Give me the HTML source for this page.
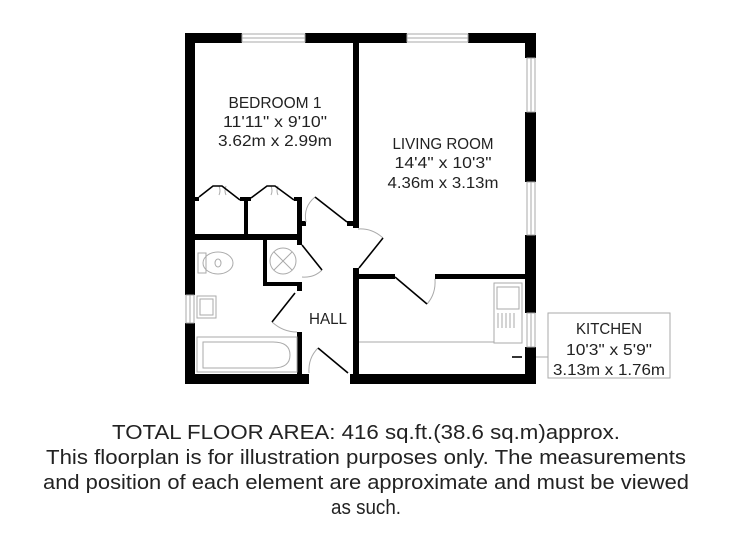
<!DOCTYPE html>
<html><head><meta charset="utf-8"><style>
html,body{margin:0;padding:0;background:#fff;width:733px;height:550px;overflow:hidden}
svg{display:block}
text{font-family:"Liberation Sans",sans-serif;fill:#222}
</style></head><body>
<svg width="733" height="550" viewBox="0 0 733 550" xmlns="http://www.w3.org/2000/svg">
<g fill="#000">
<rect x="185" y="33" width="57" height="10"/>
<rect x="305" y="33" width="102" height="10"/>
<rect x="468" y="33" width="68" height="10"/>
<rect x="185" y="33" width="10" height="262"/>
<rect x="185" y="323" width="10" height="61"/>
<rect x="185" y="374" width="124" height="10"/>
<rect x="350" y="374" width="186" height="10"/>
<rect x="525" y="33" width="11" height="25"/>
<rect x="525" y="112" width="11" height="70"/>
<rect x="525" y="235" width="11" height="78"/>
<rect x="525" y="347" width="11" height="37"/>
<rect x="353" y="33" width="6" height="195"/>
<rect x="347" y="221" width="12" height="5"/>
<rect x="353" y="268" width="6" height="116"/>
<rect x="359" y="274" width="36" height="5"/>
<rect x="435" y="274" width="90" height="5"/>
<rect x="195" y="234" width="107" height="6"/>
<rect x="244" y="198" width="4" height="36"/>
<rect x="240" y="197" width="11" height="4"/>
<rect x="195" y="197" width="4" height="4"/>
<rect x="297" y="197" width="5" height="48"/>
<rect x="294" y="197" width="8" height="4"/>
<rect x="302" y="221" width="4" height="5"/>
<rect x="263" y="240" width="4" height="46"/>
<rect x="263" y="282" width="39" height="4"/>
<rect x="297" y="282" width="5" height="9"/>
<rect x="297" y="332" width="5" height="42"/>
</g>
<g fill="none" stroke="#aaa" stroke-width="1">
<rect x="242" y="34" width="63" height="8"/><line x1="242" y1="38" x2="305" y2="38"/>
<rect x="407" y="34" width="61" height="8"/><line x1="407" y1="38" x2="468" y2="38"/>
<rect x="527" y="58" width="8" height="54"/><line x1="531" y1="58" x2="531" y2="112"/>
<rect x="527" y="182" width="8" height="53"/><line x1="531" y1="182" x2="531" y2="235"/>
<rect x="527" y="313" width="8" height="34"/><line x1="531" y1="313" x2="531" y2="347"/>
<rect x="186" y="295" width="8" height="28"/><line x1="190" y1="295" x2="190" y2="323"/>
<path d="M315 197 Q303 207 306 222"/>
<path d="M383 238 Q372 228 358 229"/>
<path d="M322 270 Q314 278 302 277"/>
<path d="M272 322 Q283 332 297 332"/>
<path d="M318 348 Q308 358 309 373"/>
<path d="M427 304 Q436 294 435 279"/>
<circle cx="283" cy="261" r="13"/>
<line x1="274" y1="252" x2="292" y2="270"/><line x1="292" y1="252" x2="274" y2="270"/>
<path d="M198 253 h8 v20 h-8 z"/><ellipse cx="218" cy="263" rx="15" ry="11"/><ellipse cx="218" cy="263" rx="3" ry="4"/>
<rect x="197" y="296" width="19" height="22"/><rect x="200" y="299" width="13" height="16"/>
<rect x="197" y="337" width="100" height="35"/>
<path d="M203 342 h70 q17 0 17 13 q0 13 -17 13 h-70 z"/>
<line x1="359" y1="342" x2="494" y2="342"/>
<rect x="494" y="283" width="28" height="60"/>
<rect x="497" y="287" width="22" height="22"/>
<path d="M498 313 v15 M502 313 v15 M506 313 v15 M510 313 v15 M514 313 v15"/>
<path d="M219 186 q2 5 0 9 M226 186 q-2 5 0 9 M271 186 q2 5 0 9 M278 186 q-2 5 0 9"/>
<rect x="548" y="313" width="122" height="65"/>
<line x1="536" y1="357" x2="548" y2="357"/>
</g>
<g fill="none" stroke="#000" stroke-width="1.6">
<path d="M199 197 L213 186 L222 186 L240 200"/>
<path d="M251 198 L267 186 L275 186 L294 200"/>
<path d="M347 222 L315 197"/>
<path d="M359 268 L383 238"/>
<path d="M302 245 L322 270"/>
<path d="M295 293 L272 322"/>
<path d="M318 348 L348 373"/>
<path d="M395 277 L427 304"/>
<path d="M512 357 L522 357"/>
</g>
<g font-size="16" text-anchor="middle" lengthAdjust="spacingAndGlyphs">
<text x="275" y="108" textLength="93" lengthAdjust="spacingAndGlyphs">BEDROOM 1</text>
<text x="275" y="127" textLength="104" lengthAdjust="spacingAndGlyphs">11'11" x 9'10"</text>
<text x="275" y="146" textLength="114" lengthAdjust="spacingAndGlyphs">3.62m x 2.99m</text>
<text x="443" y="149" textLength="101" lengthAdjust="spacingAndGlyphs">LIVING ROOM</text>
<text x="443" y="168" textLength="97" lengthAdjust="spacingAndGlyphs">14'4" x 10'3"</text>
<text x="443" y="188" textLength="111" lengthAdjust="spacingAndGlyphs">4.36m x 3.13m</text>
<text x="328" y="324" textLength="38" lengthAdjust="spacingAndGlyphs">HALL</text>
<text x="609" y="334" textLength="66" lengthAdjust="spacingAndGlyphs">KITCHEN</text>
<text x="609" y="355" textLength="86" lengthAdjust="spacingAndGlyphs">10'3" x 5'9"</text>
<text x="609" y="375" textLength="112" lengthAdjust="spacingAndGlyphs">3.13m x 1.76m</text>
</g>
<g font-size="20" text-anchor="middle">
<text x="366" y="439" textLength="508" lengthAdjust="spacingAndGlyphs">TOTAL FLOOR AREA: 416 sq.ft.(38.6 sq.m)approx.</text>
<text x="366" y="464" textLength="640" lengthAdjust="spacingAndGlyphs">This floorplan is for illustration purposes only. The measurements</text>
<text x="366" y="489" textLength="646" lengthAdjust="spacingAndGlyphs">and position of each element are approximate and must be viewed</text>
<text x="366" y="514" textLength="70" lengthAdjust="spacingAndGlyphs">as such.</text>
</g>
</svg>
</body></html>
